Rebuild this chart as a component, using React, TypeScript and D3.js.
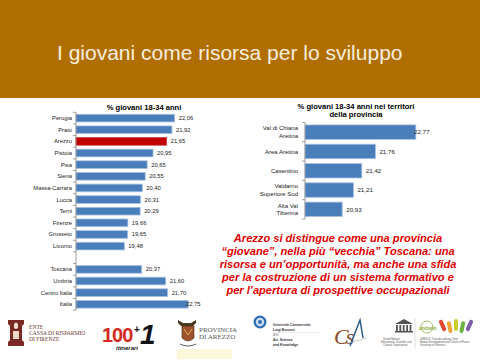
import React from "react";
import * as d3 from "d3";

const titleText = "I giovani come risorsa per lo sviluppo";

const leftTitle = "% giovani 18-34 anni";
const leftCategories = [
  "Perugia", "Prato", "Arezzo", "Pistoia", "Pisa", "Siena", "Massa-Carrara",
  "Lucca", "Terni", "Firenze", "Grosseto", "Livorno", "",
  "Toscana", "Umbria", "Centro Italia", "Italia",
];
const leftValues: (number | null)[] = [
  22.06, 21.92, 21.65, 20.95, 20.65, 20.55, 20.4,
  20.31, 20.29, 19.66, 19.65, 19.48, null,
  20.37, 21.6, 21.7, 22.75,
];
const leftHighlight = "Arezzo";

const rightTitle = ["% giovani 18-34 anni nei territori", "della provincia"];
const rightCategories = [
  ["Val di Chiana", "Aretina"],
  ["Area Aretina"],
  ["Casentino"],
  ["Valdarno", "Superiore Sud"],
  ["Alta Val", "Tiberina"],
];
const rightValues = [22.77, 21.76, 21.42, 21.21, 20.93];

const noteLines = [
  "Arezzo si distingue come una provincia",
  "\u201Cgiovane\u201D, nella pi\u00F9 \u201Cvecchia\u201D Toscana: una",
  "risorsa e un\u2019opportunit\u00E0, ma anche una sfida",
  "per la costruzione di un sistema formativo e",
  "per l\u2019apertura di prospettive occupazionali",
];

const fmt = (v: number) => v.toFixed(2).replace(".", ",");
const SANS = "'Liberation Sans', Arial, sans-serif";
const SERIF = "'Liberation Serif', 'DejaVu Serif', serif";
const BAR = "#4a7ebb";
const BAR_STROKE = "#a9c0e0";

function LeftChart() {
  const x0 = 76;
  const x = d3.scaleLinear().domain([17, 23]).range([x0, x0 + 6 * 19.5]);
  const y = d3
    .scaleBand<string>()
    .domain(leftCategories.map((c, i) => i + "|" + c))
    .range([112.3, 310.1])
    .paddingInner(0.34)
    .paddingOuter(0.17);
  const keys = y.domain();
  const step = y.step();
  const top = 112.3;
  const labelMax = 201;
  return (
    <g fontFamily={SANS}>
      <text x={144} y={110} textAnchor="middle" fontSize={7.6} fontWeight="bold" fill="#000">
        {leftTitle}
      </text>
      {keys.map((k, i) => {
        const v = leftValues[i];
        const cat = leftCategories[i];
        const yy = y(k)!;
        const bw = y.bandwidth();
        return (
          <g key={k}>
            {cat && (
              <text x={72} y={yy + bw / 2 + 2} textAnchor="end" fontSize={5.8} fill="#222">
                {cat}
              </text>
            )}
            {v !== null && (
              <>
                <rect
                  x={x0}
                  y={yy}
                  width={x(v) - x0}
                  height={bw}
                  fill={cat === leftHighlight ? "#c00000" : BAR}
                  stroke={cat === leftHighlight ? "#d04040" : BAR_STROKE}
                  strokeWidth={0.8}
                />
                <text
                  x={Math.min(x(v) + 4, labelMax - 15)}
                  y={yy + bw / 2 + 2}
                  fontSize={5.8}
                  fill="#222"
                >
                  {fmt(v)}
                </text>
              </>
            )}
          </g>
        );
      })}
      <line x1={x0} x2={x0} y1={top} y2={top + step * keys.length} stroke="#888" strokeWidth={0.8} />
      {d3.range(keys.length + 1).map((i) => (
        <line key={i} x1={x0 - 3} x2={x0} y1={top + i * step} y2={top + i * step} stroke="#888" strokeWidth={0.8} />
      ))}
    </g>
  );
}

function RightChart() {
  const x0 = 305;
  const x = d3.scaleLinear().domain([20, 23]).range([x0, x0 + 3 * 40]);
  const y = d3
    .scaleBand<string>()
    .domain(rightCategories.map((c) => c.join(" ")))
    .range([122.5, 219])
    .paddingInner(0.25)
    .paddingOuter(0.125);
  const keys = y.domain();
  const step = y.step();
  const top = 122.5;
  const labelMax = 430;
  return (
    <g fontFamily={SANS}>
      {rightTitle.map((t, i) => (
        <text key={i} x={356} y={109 + i * 7.8} textAnchor="middle" fontSize={7.6} fontWeight="bold" fill="#000">
          {t}
        </text>
      ))}
      {keys.map((k, i) => {
        const v = rightValues[i];
        const lines = rightCategories[i];
        const yy = y(k)!;
        const bw = y.bandwidth();
        const cy = yy + bw / 2;
        return (
          <g key={k}>
            {lines.map((l, j) => (
              <text
                key={j}
                x={298}
                y={cy + 2.1 + (j - (lines.length - 1) / 2) * 7.6}
                textAnchor="end"
                fontSize={6}
                fill="#222"
              >
                {l}
              </text>
            ))}
            <rect x={x0} y={yy} width={x(v) - x0} height={bw} fill={BAR} stroke={BAR_STROKE} strokeWidth={0.8} />
            <text x={Math.min(x(v) + 4, labelMax - 16)} y={cy + 2.2} fontSize={6.2} fill="#222">
              {fmt(v)}
            </text>
          </g>
        );
      })}
      <line x1={x0} x2={x0} y1={top} y2={top + step * keys.length} stroke="#888" strokeWidth={0.8} />
      {d3.range(keys.length + 1).map((i) => (
        <line key={i} x1={x0 - 3} x2={x0} y1={top + i * step} y2={top + i * step} stroke="#888" strokeWidth={0.8} />
      ))}
    </g>
  );
}

function Logos() {
  return (
    <g>
      {/* Ente Cassa di Risparmio */}
      <g>
        <path d="M8,320 h16 v4 l-2,2 v14 l2,2 v4 h-16 v-4 l2,-2 v-14 l-2,-2 z" fill="#7a2a22" />
        <path d="M14,324 q2,-3 4,0 v4 q-2,2 -4,0 z M13,331 h6 v8 h-6 z" fill="#e8d8c8" />
        <g fontFamily={SERIF} fontSize={5.6} fill="#6b3a2e">
          <text x={29} y={329}>ENTE</text>
          <text x={29} y={335}>CASSA DI RISPARMIO</text>
          <text x={29} y={341}>DI FIRENZE</text>
        </g>
      </g>
      {/* 100+1 itinerari */}
      <g fontFamily={SANS} fontWeight="bold">
        <text x={102} y={342} fontSize={20} fill="#d42a1f" letterSpacing={-1}>100</text>
        <text x={134} y={333} fontSize={10} fill="#111">+</text>
        <text x={140} y={344} fontSize={28} fill="#111" fontStyle="italic">1</text>
        <text x={116} y={350} fontSize={6} fill="#111" fontStyle="italic">itinerari</text>
      </g>
      {/* Provincia di Arezzo */}
      <g>
        <rect x={177} y={349} width={55} height={10} fill="#fcf7d9" />
        <path d="M178,320 l5,3 h8 l5,-3 v3 l-3,3 h-12 l-3,-3 z" fill="#4a3a20" />
        <path d="M182,326 h12 v12 q-6,6 -12,0 z" fill="#a0522d" stroke="#3a2a10" strokeWidth={0.6} />
        <path d="M184,329 l4,6 l4,-6" fill="none" stroke="#e8c860" strokeWidth={0.8} />
        <path d="M180,344 q8,4 16,0" fill="none" stroke="#333" strokeWidth={0.8} />
        <g fontFamily={SERIF} fontSize={7} fill="#555">
          <text x={199} y={332}>PROVINCIA</text>
          <text x={199} y={339}>DI AREZZO</text>
        </g>
      </g>
      {/* Bocconi */}
      <g fontFamily={SANS}>
        <circle cx={260} cy={322} r={6.5} fill="#2f6db0" />
        <circle cx={260} cy={322} r={4.2} fill="#cfe0f2" />
        <circle cx={260} cy={322} r={2} fill="#2f6db0" />
        <g fontSize={3.3} fontWeight="bold" fill="#333">
          <text x={273} y={326}>Università Commerciale</text>
          <text x={273} y={330.5}>Luigi Bocconi</text>
        </g>
        <line x1={273} x2={320} y1={332.5} y2={332.5} stroke="#ccc" strokeWidth={0.4} />
        <text x={273} y={336} fontSize={3} fill="#888">ASK</text>
        <g fontSize={3.4} fontWeight="bold" fill="#333">
          <text x={273} y={341}>Art, Science</text>
          <text x={273} y={345.5}>and Knowledge</text>
        </g>
      </g>
      {/* CSA */}
      <g fontFamily={SERIF}>
        <text x={334} y={344} fontSize={22} fill="#8a4a2a" fontStyle="italic" letterSpacing={-3}>Cs</text>
        <path d="M350,346 l10,-26 l3,18" fill="none" stroke="#2a5a8a" strokeWidth={1.5} />
        <line x1={348} x2={367} y1={343} y2={338} stroke="#aaa" strokeWidth={0.6} />
      </g>
      {/* UNESCO + Unitwin */}
      <g fontFamily={SANS}>
        <path d="M395,324 l9,-5 l9,5 z" fill="#555" />
        {d3.range(5).map((i) => (
          <rect key={i} x={396 + i * 3.4} y={325} width={1.8} height={6} fill="#555" />
        ))}
        <rect x={395} y={331} width={18} height={1.5} fill="#555" />
        <line x1={415} x2={415} y1={318} y2={348} stroke="#bbb" strokeWidth={0.5} />
        <circle cx={427} cy={327} r={6} fill="none" stroke="#8ab040" strokeWidth={0.8} />
        <text x={419} y={330} fontSize={5} fill="#8ab040" fontWeight="bold">unitwin</text>
        {["#e0462f", "#f2a33a", "#c7cf2f", "#6db33f", "#7b5ea7"].map((c, i) => (
          <rect key={c} x={443 + i * 5.5} y={319 + (i % 2) * 2} width={4} height={12} rx={2} fill={c} transform={`rotate(${(i - 2) * 12} ${445 + i * 5.5} 331)`} />
        ))}
        <g fontSize={2.6} fill="#555">
          <text x={383} y={340}>United Nations</text>
          <text x={381} y={343}>Educational, Scientific and</text>
          <text x={383} y={346}>Cultural Organization</text>
          <text x={420} y={340}>UNESCO Transdisciplinary Chair</text>
          <text x={420} y={343}>Human Development and Culture of Peace</text>
          <text x={420} y={346}>University of Florence</text>
        </g>
      </g>
    </g>
  );
}

export default function App() {
  return (
    <svg
      width={480}
      height={360}
      viewBox="0 0 480 360"
      style={{ position: "absolute", left: 0, top: 0, background: "#fff" }}
    >
      <rect x={0} y={0} width={480} height={360} fill="#fff" />
      <rect x={0} y={0} width={480} height={98} fill="#b06e00" />
      <text x={57} y={60} fontFamily={SANS} fontSize={21} fill="#f7eedf">
        {titleText}
      </text>
      <LeftChart />
      <RightChart />
      <g fontFamily={SANS} fontSize={11.1} fontWeight="bold" fontStyle="italic" fill="#e00000" textAnchor="middle">
        {noteLines.map((l, i) => (
          <text key={i} x={338} y={242 + i * 12.9}>
            {l}
          </text>
        ))}
      </g>
      <Logos />
    </svg>
  );
}
